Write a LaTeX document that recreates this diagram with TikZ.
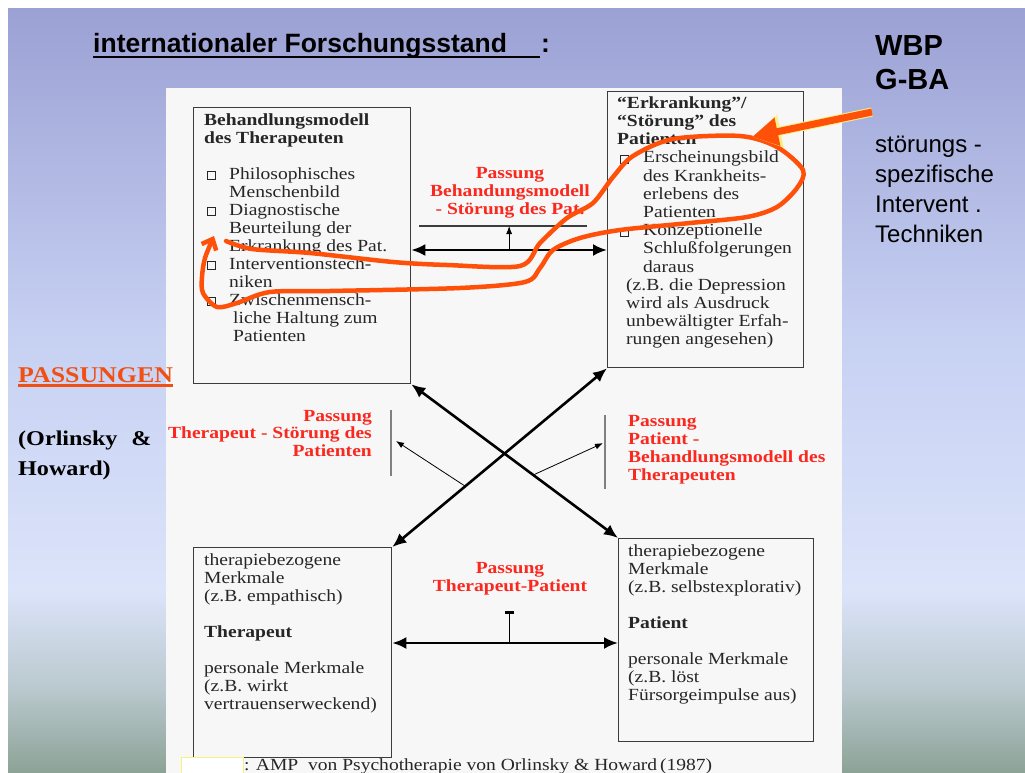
\documentclass[tikz,border=0pt]{standalone}
\usepackage{fontspec}
\setmainfont{Liberation Serif}[FakeStretch=1.15]
\setsansfont{Liberation Sans}
\usetikzlibrary{arrows.meta,calc}

\definecolor{passrot}{RGB}{250,40,30}
\definecolor{markerrot}{RGB}{255,80,10}
\definecolor{titelrot}{RGB}{240,80,20}
\definecolor{rahmen}{RGB}{60,60,60}
\definecolor{blatt}{RGB}{247,247,247}
\definecolor{kastengelb}{RGB}{250,240,130}
\definecolor{folieA}{RGB}{155,161,212}
\definecolor{folieB}{RGB}{198,208,242}
\definecolor{folieC}{RGB}{220,228,250}
\definecolor{folieD}{RGB}{185,200,205}
\definecolor{folieE}{RGB}{140,162,150}

% strut for the first line of a block, small list box
\newcommand\oben{\rule{0pt}{12.5pt}}
\newcommand\kasten{{\fboxsep=0pt\fboxrule=0.6pt\fbox{\rule{0pt}{7.5pt}\rule{7.5pt}{0pt}}}}
\newcommand\punkt[1][25pt]{\makebox[#1][l]{\hspace{3pt}\kasten}}
\newcommand\weiter[1][25pt]{\hspace*{#1}}

\tikzset{>={Latex[length=14pt,width=12pt]}}
\tikzset{
  kiste/.style = {draw=rahmen, line width=1.3pt, anchor=north west, inner sep=0pt},
  inhalt/.style = {anchor=north west, inner sep=0pt, align=left, text=black!85,
    font=\fontsize{17}{18}\selectfont},
  passung/.style = {inner sep=0pt, text=passrot, font=\bfseries\fontsize{17}{18}\selectfont},
  dick/.style = {line width=2.6pt},
  duenn/.style = {line width=0.8pt, >={Latex[length=8pt,width=6pt]}, ->},
  balken/.style = {draw=gray, line width=1.6pt},
  marker/.style = {draw=markerrot, line width=4.5pt, line cap=round, line join=round,
    -{Straight Barb[length=9pt,width=16pt]}}
}

\begin{document}
\begin{tikzpicture}[x=1pt,y=-1pt]
  \useasboundingbox (0,0) rectangle (1025,773);
  % slide background
  \fill[white] (0,0) rectangle (1025,773);
  \shade[top color=folieA,bottom color=folieB] (8,9) rectangle (1025,331);
  \shade[top color=folieB,bottom color=folieC] (8,330) rectangle (1025,591);
  \shade[top color=folieC,bottom color=folieD] (8,590) rectangle (1025,691);
  \shade[top color=folieD,bottom color=folieE] (8,690) rectangle (1025,773);
  \fill[blatt] (166,88) rectangle (842,773);

  % heading
  \node[anchor=base west, inner sep=0pt, font=\sffamily\bfseries\fontsize{26.5}{30}\selectfont]
    (titel) at (93,53) {internationaler Forschungsstand};
  \node[anchor=base west, inner sep=0pt, font=\sffamily\bfseries\fontsize{26.5}{30}\selectfont]
    (doppelpunkt) at (541,53) {:};
  \draw[line width=2pt] ([yshift=-4pt]titel.base west) -- ++(447,0);
  \node[anchor=north west, inner sep=0pt, align=left, font=\sffamily\bfseries\fontsize{29}{34}\selectfont]
    (gremien) at (875,33) {\rule{0pt}{22pt}WBP\\ G-BA};
  \node[anchor=north west, inner sep=0pt, align=left, font=\sffamily\fontsize{24}{30}\selectfont]
    (techniken) at (875,133) {\rule{0pt}{19pt}störungs -\\ spezifische\\ Intervent .\\ Techniken};

  % left margin
  \node[anchor=base west, inner sep=0pt, text=titelrot, font=\bfseries\fontsize{22.5}{26}\selectfont]
    (passungen) at (18,382) {PASSUNGEN};
  \draw[titelrot, line width=2.2pt] ([yshift=-3.5pt]passungen.base west) -- ([yshift=-3.5pt]passungen.base east);
  \node[anchor=north west, inner sep=0pt, align=left, font=\bfseries\fontsize{21}{30}\selectfont]
    (autoren) at (18,429.5) {\rule{0pt}{15.5pt}(Orlinsky\hspace{14pt}\&\\ Howard)};

  % boxes
  \node[kiste, minimum width=217pt, minimum height=276pt] (modell) at (193,107) {};
  \node[kiste, minimum width=196pt, minimum height=276pt] (stoerung) at (607,91) {};
  \node[kiste, minimum width=198pt, minimum height=210pt] (therapeut) at (193,547) {};
  \node[kiste, minimum width=195pt, minimum height=203pt] (patient) at (618,538) {};

  \node[inhalt] (modelltext) at (204,112.5) {\oben\textbf{Behandlungsmodell}\\
    \textbf{des Therapeuten}\\[18pt]
    \punkt Philosophisches\\
    \weiter Menschenbild\\
    \punkt Diagnostische\\
    \weiter Beurteilung der\\
    \weiter Erkrankung des Pat.\\
    \punkt Interventionstech-\\
    \weiter niken\\
    \punkt Zwischenmensch-\\
    \weiter[29pt]liche Haltung zum\\
    \weiter[29pt]Patienten};
  \node[inhalt, font=\fontsize{17}{18.2}\selectfont] (stoerungtext) at (617,95.5) {\oben\textbf{“Erkrankung”/}\\
    \textbf{“Störung” des}\\
    \textbf{Patienten}\\
    \punkt[26pt]Erscheinungsbild\\
    \weiter[26pt]des Krankheits-\\
    \weiter[26pt]erlebens des\\
    \weiter[26pt]Patienten\\
    \punkt[26pt]Konzeptionelle\\
    \weiter[26pt]Schlußfolgerungen\\
    \weiter[26pt]daraus\\
    \weiter[9pt](z.B.\ die Depression\\
    \weiter[9pt]wird als Ausdruck\\
    \weiter[9pt]unbewältigter Erfah-\\
    \weiter[9pt]rungen angesehen)};
  \node[inhalt] (therapeuttext) at (204,552.5) {\oben therapiebezogene\\
    Merkmale\\
    (z.B.\ empathisch)\\[18pt]
    \textbf{Therapeut}\\[18pt]
    personale Merkmale\\
    (z.B.\ wirkt\\
    vertrauenserweckend)};
  \node[inhalt] (patienttext) at (628,543.5) {\oben therapiebezogene\\
    Merkmale\\
    (z.B.\ selbstexplorativ)\\[18pt]
    \textbf{Patient}\\[18pt]
    personale Merkmale\\
    (z.B.\ löst\\
    Fürsorgeimpulse aus)};

  % fit labels
  \node[passung, anchor=north, align=center] (passungBS) at (510,165.5)
    {\oben Passung\\ Behandungsmodell\\ - Störung des Pat.};
  \node[passung, anchor=north east, align=right, font=\bfseries\fontsize{17}{17.5}\selectfont] (passungTS) at (372,408.5)
    {\oben Passung\\ Therapeut - Störung des\\ Patienten};
  \node[passung, anchor=north west, align=left] (passungPB) at (628,413.5)
    {\oben Passung\\ Patient -\\ Behandlungsmodell des\\ Therapeuten};
  \node[passung, anchor=north, align=center] (passungTP) at (510,560.5)
    {\oben Passung\\ Therapeut-Patient};

  % arrows between the boxes
  \coordinate (hoeheO) at (0,250);
  \coordinate (hoeheU) at (0,643);
  \draw[dick,<->] (modell.east |- hoeheO) -- (stoerung.west |- hoeheO) coordinate[pos=0.5] (mitteO);
  \draw[dick,<->] (therapeut.east |- hoeheU) -- (patient.west |- hoeheU) coordinate[pos=0.52] (mitteU);
  \draw[dick,<->] (modell.south east) -- (patient.north west) coordinate[pos=0.59] (fussR);
  \draw[dick,<->] (stoerung.south west) -- (therapeut.north east) coordinate[pos=0.66] (fussL);

  % bars the fit arrows point to
  \draw[rahmen, line width=1.1pt] (419,226) coordinate (linieO1) -- (587,226) coordinate (linieO2);
  \draw[balken] (391,410) coordinate (balkenL1) -- (391,476) coordinate (balkenL2);
  \draw[balken] (605,415) coordinate (balkenR1) -- (605,489) coordinate (balkenR2);
  \draw[duenn] (mitteO) -- (mitteO |- linieO1);
  \draw[line width=1pt, -{Bar[width=9pt,line width=2.5pt]}] (mitteU) -- ++(0,-32);
  \draw[duenn] (fussL) -- ($(balkenL1)!0.47!(balkenL2)+(5,0)$);
  \draw[duenn] (fussR) -- ($(balkenR1)!0.38!(balkenR2)+(-2,0)$);

  % source line
  \node[draw=kastengelb, fill=white, line width=0.8pt, anchor=north west, inner sep=0pt,
    minimum width=62pt, minimum height=18pt] (legende) at (181,757) {};
  \coordinate (hoeheQ) at (0,770);
  \node[anchor=base west, inner sep=0pt, text=black!85, font=\fontsize{17}{18}\selectfont]
    (quelle) at (legende.east |- hoeheQ) {: AMP\ \ von Psychotherapie von Orlinsky \& Howard\,(1987)};

  % hand-drawn marking
  \draw[marker] plot[smooth, tension=0.5] coordinates {
    (226,241) (252,249) (310,253) (393,262) (447,265) (520,266) (540,243) (567,218)
    (593,203) (613,177) (633,156) (673,139) (740,136) (777,147) (803,170) (797,188)
    (777,207) (747,217) (690,223) (620,230) (580,238) (553,250) (540,268) (525,282)
    (460,288) (330,291) (270,292) (237,303) (217,307) (203,293) (202,277) (205,258)
    (214,236)};
  \coordinate (pfeilende) at (872,112);
  \coordinate (pfeilspitze) at (752,137);
  \draw[line width=9pt, draw=kastengelb, -{Triangle[length=29pt,width=31pt]}] (pfeilende) -- (pfeilspitze);
  \draw[line width=7pt, draw=markerrot, -{Triangle[length=26pt,width=27pt]}] (pfeilende) -- (pfeilspitze);
\end{tikzpicture}
\end{document}
